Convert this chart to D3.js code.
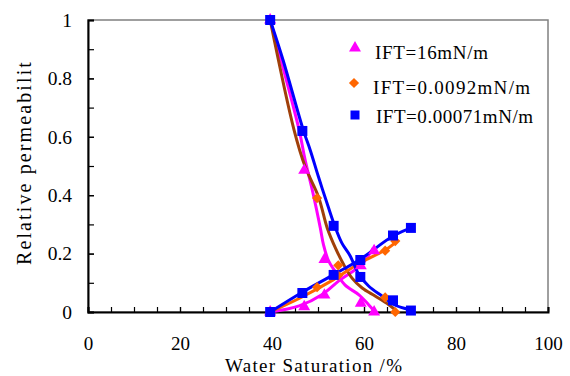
<!DOCTYPE html>
<html>
<head>
<meta charset="utf-8">
<script src="https://cdn.jsdelivr.net/npm/d3@7/dist/d3.min.js"></script>
<style>
  body { margin: 0; background: #fff; }
  svg { display: block; }
  text { font-family: "Liberation Serif", "Times New Roman", serif; fill: #000; }
</style>
</head>
<body>
<svg id="chart" width="570" height="376"></svg>
<script>
// ---- axis ticks and labels ----
const swTicks = [0, 20, 40, 60, 80, 100];
const swMinorTicks = d3.range(0, 100.01, 5);
const krTicks = [0, 0.2, 0.4, 0.6, 0.8, 1];
const krTickLabels = ["0", "0.2", "0.4", "0.6", "0.8", "1"];
const krMinorTicks = d3.range(0, 1.001, 0.1);
const xTitle = "Water Saturation /%";
const yTitle = "Relative permeability";
const seriesNames = ["IFT=16mN/m", "IFT=0.0092mN/m", "IFT=0.00071mN/m"];

// ---- measured points (Sw %, kro, krw) ----
const sw16  = [39.6, 47.0, 51.4, 59.3, 62.2];
const kro16 = [1.00, 0.485, 0.18, 0.03, 0.0];
const krw16 = [0.0, 0.018, 0.058, 0.158, 0.21];

const sw92  = [39.6, 49.8, 54.4, 64.6, 66.8];
const kro92 = [1.00, 0.39, 0.16, 0.05, 0.0];
const krw92 = [0.0, 0.085, 0.125, 0.21, 0.243];

const sw071  = [39.6, 46.6, 53.4, 59.2, 66.3, 70.2];
const kro071 = [1.00, 0.62, 0.295, 0.12, 0.04, 0.005];
const krw071 = [0.0, 0.065, 0.127, 0.178, 0.262, 0.288];

// ---- fitted trend curves ----
const oilCurveSw16 = [39.6, 45.9, 47.2, 48.9, 50.5, 51.2, 52.3, 53.7, 55.9, 58.9, 61.0, 62.4];
const oilCurve16   = [1.00, 0.623, 0.521, 0.408, 0.288, 0.23, 0.175, 0.14, 0.092, 0.059, 0.025, 0.0];
const watCurveSw16 = [39.6, 45.9, 51.1, 54.8, 58.0, 59.6, 62.0];
const watCurve16   = [0.0, 0.021, 0.062, 0.11, 0.144, 0.164, 0.219];

const oilCurveSw92 = [39.6, 44.8, 47.2, 50.1, 52.0, 53.8, 55.6, 57.4, 59.6, 62.5, 65.4, 66.8];
const oilCurve92   = [1.00, 0.623, 0.498, 0.395, 0.288, 0.219, 0.162, 0.116, 0.082, 0.054, 0.025, 0.007];
const watCurveSw92 = [39.6, 46.1, 53.3, 59.1, 64.6, 67.2];
const watCurve92   = [0.0, 0.048, 0.11, 0.168, 0.212, 0.243];

const oilCurveSw071 = [39.6, 42.4, 46.8, 48.3, 50.1, 52.2, 53.7, 55.2, 57.0, 58.9, 61.0, 63.9, 66.7, 69.7, 70.4];
const oilCurve071   = [1.00, 0.863, 0.623, 0.555, 0.463, 0.361, 0.292, 0.236, 0.192, 0.128, 0.089, 0.055, 0.024, 0.008, 0.003];
const watCurveSw071 = [39.6, 46.4, 53.4, 59.2, 66.4, 70.4];
const watCurve071   = [0.0, 0.066, 0.128, 0.181, 0.261, 0.289];

// ---- styling ----
const magenta = "#FF00FF", orange = "#FF6600", brown = "#A0400A", blue = "#0000FF";

const svg = d3.select("#chart");
const x = d3.scaleLinear().domain([0, 100]).range([88, 548]);
const y = d3.scaleLinear().domain([0, 1]).range([312, 20]);

// plot-area border
svg.append("rect")
  .attr("x", x(0)).attr("y", y(1))
  .attr("width", x(100) - x(0)).attr("height", y(0) - y(1))
  .attr("fill", "none").attr("stroke", "#808080").attr("stroke-width", 1.5);

// minor ticks
svg.append("g").attr("transform", `translate(${x(0)},0)`)
  .call(d3.axisLeft(y).tickValues(krMinorTicks).tickSize(-6).tickFormat(""))
  .call(g => g.select(".domain").remove())
  .call(g => g.selectAll("line").attr("stroke", "#000").attr("stroke-width", 1.2));
svg.append("g").attr("transform", `translate(0,${y(0)})`)
  .call(d3.axisBottom(x).tickValues(swMinorTicks).tickSize(-5).tickFormat(""))
  .call(g => g.select(".domain").remove())
  .call(g => g.selectAll("line").attr("stroke", "#000").attr("stroke-width", 1.2));

// main axes with labels
const yAxis = svg.append("g").attr("transform", `translate(${x(0)},0)`)
  .call(d3.axisLeft(y).tickValues(krTicks).tickSize(-6).tickPadding(16)
    .tickFormat((d, i) => krTickLabels[i]));
const xAxis = svg.append("g").attr("transform", `translate(0,${y(0)})`)
  .call(d3.axisBottom(x).tickValues(swTicks).tickSize(-5).tickPadding(25)
    .tickFormat(d3.format("d")));
[yAxis, xAxis].forEach(g => {
  g.select(".domain").attr("stroke", "#000").attr("stroke-width", 2);
  g.selectAll("line").attr("stroke", "#000").attr("stroke-width", 1.2);
  g.selectAll("text").attr("font-size", 19.5).attr("font-family", "Liberation Serif, serif").attr("fill", "#000");
});
xAxis.selectAll("text").attr("font-size", 19);

// axis titles
svg.append("text")
  .attr("x", 225).attr("y", 371.5)
  .attr("font-size", 19).attr("textLength", 177).attr("lengthAdjust", "spacing")
  .text(xTitle);

svg.append("clipPath").attr("id", "ytitle-clip")
  .append("rect").attr("x", 0).attr("y", 61).attr("width", 60).attr("height", 315);
svg.append("g").attr("clip-path", "url(#ytitle-clip)")
  .append("text")
  .attr("transform", "translate(31,265) rotate(-90)")
  .attr("font-size", 20).attr("textLength", 215).attr("lengthAdjust", "spacing")
  .text(yTitle);

// curves
const line = d3.line().x(d => x(d[0])).y(d => y(d[1])).curve(d3.curveCatmullRom.alpha(0.5));
const zip = (a, b) => a.map((v, i) => [v, b[i]]);
const curves = [
  [zip(oilCurveSw16, oilCurve16), magenta],
  [zip(watCurveSw16, watCurve16), magenta],
  [zip(oilCurveSw92, oilCurve92), brown],
  [zip(watCurveSw92, watCurve92), orange],
  [zip(oilCurveSw071, oilCurve071), blue],
  [zip(watCurveSw071, watCurve071), blue]
];
svg.append("g").selectAll("path").data(curves).join("path")
  .attr("d", d => line(d[0]))
  .attr("fill", "none").attr("stroke", d => d[1]).attr("stroke-width", 3)
  .attr("stroke-linejoin", "round");

// markers
const triangle = d3.symbol().type(d3.symbolTriangle).size(62)();
const diamond = d3.symbol().type(d3.symbolSquare).size(52)();
const square = d3.symbol().type(d3.symbolSquare).size(100)();

function drawMarkers(sw, kr, path, color, rot) {
  svg.append("g").selectAll("path").data(zip(sw, kr)).join("path")
    .attr("d", path)
    .attr("transform", d => `translate(${x(d[0])},${y(d[1])}) rotate(${rot})`)
    .attr("fill", color);
}
drawMarkers(sw16, kro16, triangle, magenta, 0);
drawMarkers(sw16, krw16, triangle, magenta, 0);
drawMarkers(sw92, kro92, diamond, orange, 45);
drawMarkers(sw92, krw92, diamond, orange, 45);
drawMarkers(sw071, kro071, square, blue, 0);
drawMarkers(sw071, krw071, square, blue, 0);

// legend
const legend = [
  { name: seriesNames[0], path: triangle, color: magenta, rot: 0, mx: 355, my: 48, tx: 375, ty: 59, len: 113 },
  { name: seriesNames[1], path: diamond, color: orange, rot: 45, mx: 354, my: 83, tx: 373, ty: 94, len: 157 },
  { name: seriesNames[2], path: d3.symbol().type(d3.symbolSquare).size(81)(), color: blue, rot: 0, mx: 355, my: 115, tx: 376, ty: 123, len: 157 }
];
const lg = svg.append("g");
legend.forEach(d => {
  lg.append("path").attr("d", d.path)
    .attr("transform", `translate(${d.mx},${d.my}) rotate(${d.rot})`).attr("fill", d.color);
  lg.append("text").attr("x", d.tx).attr("y", d.ty)
    .attr("font-size", 19).attr("textLength", d.len).attr("lengthAdjust", "spacing")
    .text(d.name);
});
</script>
</body>
</html>
